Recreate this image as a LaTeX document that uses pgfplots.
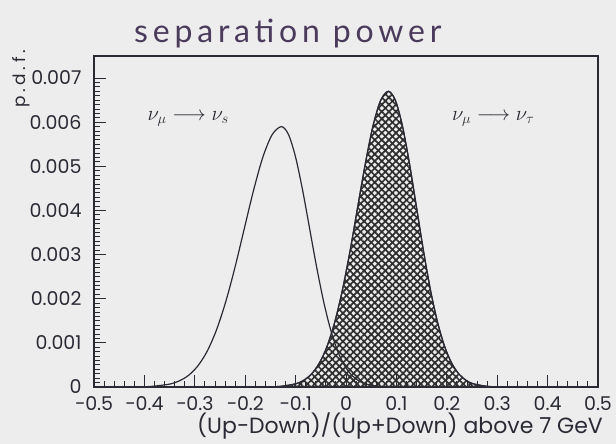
\documentclass[border=0pt]{standalone}
\usepackage{pgfplots}
\pgfplotsset{compat=1.18}
\usetikzlibrary{patterns.meta}
\usepackage{fontspec}
\setmainfont{Poppins}
\newfontfamily\titlefont{Lato}[LetterSpace=15]
\newfontfamily\pdffont{Poppins}[LetterSpace=22]
\definecolor{bg}{HTML}{EDEDED}
\definecolor{ink}{HTML}{2A2A35}
\definecolor{pen}{HTML}{4A3A5C}
\begin{document}
\begin{tikzpicture}
\fill[bg] (0pt,0pt) rectangle (616pt,444pt);
\useasboundingbox (0pt,0pt) rectangle (616pt,444pt);
\node[pen, anchor=base west, font=\titlefont\fontsize{32}{36}\selectfont, inner sep=0pt] at (134pt,401pt) {separation power};
\node[ink, rotate=90, font=\pdffont\fontsize{17}{19}\selectfont, inner sep=0pt] at (21pt,365pt) {p.d.f.};
\begin{axis}[
  at={(94pt,57pt)}, anchor=south west,
  width=504pt, height=331pt, scale only axis,
  xmin=-0.5, xmax=0.5, ymin=0, ymax=0.0075,
  axis line style={ink, line width=1.3pt},
  every tick/.style={ink, line width=0.9pt},
  tick align=inside,
  xtick pos=bottom, ytick pos=left,
  major tick length=12pt, minor tick length=6pt,
  xtick={-0.5,-0.4,-0.3,-0.2,-0.1,0,0.1,0.2,0.3,0.4,0.5},
  xticklabels={−0.5,−0.4,−0.3,−0.2,−0.1,0,0.1,0.2,0.3,0.4,0.5},
  ytick={0,0.001,0.002,0.003,0.004,0.005,0.006,0.007},
  yticklabels={0,0.001,0.002,0.003,0.004,0.005,0.006,0.007},
  scaled y ticks=false, scaled x ticks=false,
  minor x tick num=4, minor y tick num=9,
  tick label style={ink, font=\fontsize{19}{21}\selectfont},
  yticklabel style={xshift=-9pt},
  xticklabel style={yshift=-6pt},
  xlabel={(Up−Down)/(Up+Down) above 7 GeV},
  xlabel style={at={(rel axis cs:1,0)}, anchor=base east, yshift=-47pt, xshift=5pt, ink, font=\fontsize{22}{24}\selectfont, inner sep=0pt},
]
\addplot[ink, line width=1.2pt, smooth] coordinates {
(-0.5,0) (-0.46,0) (-0.424,0.000002) (-0.387,0.000013) (-0.350,0.0000655) (-0.3315,0.000135)
(-0.313,0.000259) (-0.2945,0.000470) (-0.276,0.000798) (-0.2575,0.001277) (-0.239,0.001916)
(-0.2205,0.002701) (-0.202,0.003578) (-0.1835,0.004453) (-0.165,0.005207) (-0.1465,0.005718)
(-0.128,0.0059)
(-0.114,0.005718) (-0.100,0.005207) (-0.086,0.004453) (-0.072,0.003578) (-0.058,0.002701)
(-0.044,0.001916) (-0.030,0.001277) (-0.016,0.000798) (-0.002,0.000470) (0.012,0.000259)
(0.026,0.000135) (0.040,0.0000655) (0.068,0.000013) (0.096,0.000002) (0.13,0) (0.5,0)
};
\addplot[ink, line width=1.2pt, smooth,
  pattern={Lines[angle=45,distance=5pt,line width=1.7pt]}, pattern color=black!82,
  postaction={pattern={Lines[angle=-45,distance=5pt,line width=1.7pt]}, pattern color=black!82}]
  coordinates {
(-0.19,0) (-0.160,0.0000023) (-0.1295,0.0000147) (-0.099,0.0000744) (-0.0838,0.000153)
(-0.0685,0.000294) (-0.0533,0.000533) (-0.038,0.000907) (-0.0228,0.001451) (-0.0075,0.002175)
(0.0078,0.003067) (0.023,0.004064) (0.0383,0.005057) (0.0535,0.005913) (0.0688,0.006494)
(0.084,0.0067)
(0.098,0.006494) (0.112,0.005913) (0.126,0.005057) (0.140,0.004064) (0.154,0.003067)
(0.168,0.002175) (0.182,0.001451) (0.196,0.000907) (0.210,0.000533) (0.224,0.000294)
(0.238,0.000153) (0.252,0.0000744) (0.280,0.0000147) (0.308,0.0000023) (0.34,0)
} \closedcycle;
\node[anchor=west, ink, font=\fontsize{20}{22}\selectfont, inner sep=0pt] at (axis cs:-0.394,0.00607) {$\nu_\mu\longrightarrow\nu_s$};
\node[anchor=west, ink, font=\fontsize{20}{22}\selectfont, inner sep=0pt] at (axis cs:0.21,0.00607) {$\nu_\mu\longrightarrow\nu_\tau$};
\end{axis}
\end{tikzpicture}
\end{document}
